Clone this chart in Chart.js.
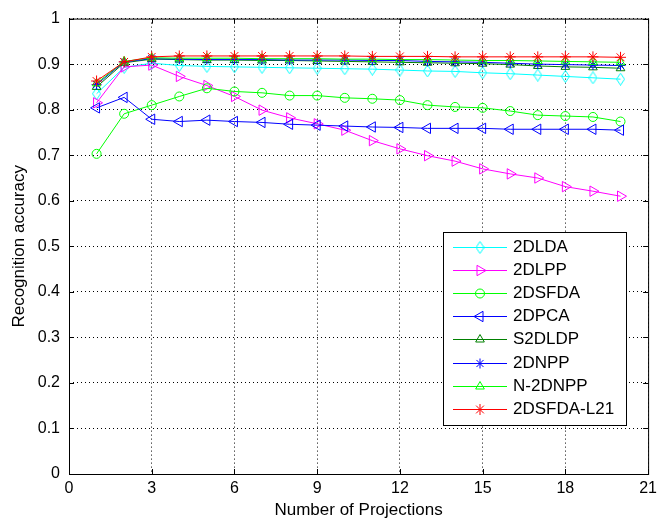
<!DOCTYPE html>
<html>
<head>
<meta charset="utf-8">
<script src="https://cdn.jsdelivr.net/npm/chart.js@4.4.1/dist/chart.umd.min.js"></script>
<style>
  html, body { margin: 0; padding: 0; background: #fff; }
  canvas { display: block; }
</style>
</head>
<body>
<canvas id="accuracyChart" width="662" height="524"></canvas>
<script>
// number of projections (x axis)
const projections = [1, 2, 3, 4, 5, 6, 7, 8, 9, 10, 11, 12, 13, 14, 15, 16, 17, 18, 19, 20];

// recognition accuracy per method
const acc2DLDA     = [0.835, 0.893, 0.902, 0.897, 0.895, 0.894, 0.893, 0.892, 0.891, 0.890, 0.889, 0.887, 0.885, 0.884, 0.881, 0.879, 0.876, 0.873, 0.870, 0.867];
const acc2DLPP     = [0.815, 0.894, 0.898, 0.873, 0.853, 0.829, 0.799, 0.782, 0.769, 0.755, 0.732, 0.714, 0.699, 0.687, 0.670, 0.659, 0.650, 0.631, 0.621, 0.610];
const acc2DSFDA    = [0.703, 0.791, 0.810, 0.829, 0.847, 0.840, 0.837, 0.831, 0.831, 0.826, 0.824, 0.821, 0.810, 0.806, 0.804, 0.797, 0.788, 0.786, 0.784, 0.774];
const acc2DPCA     = [0.804, 0.827, 0.779, 0.774, 0.777, 0.774, 0.772, 0.768, 0.766, 0.764, 0.762, 0.761, 0.759, 0.759, 0.759, 0.757, 0.757, 0.757, 0.757, 0.755];
const accS2DLDP    = [0.850, 0.903, 0.911, 0.910, 0.909, 0.909, 0.908, 0.908, 0.907, 0.906, 0.905, 0.904, 0.903, 0.902, 0.901, 0.899, 0.896, 0.894, 0.893, 0.891];
const acc2DNPP     = [0.855, 0.905, 0.912, 0.911, 0.910, 0.910, 0.910, 0.909, 0.909, 0.909, 0.908, 0.908, 0.906, 0.905, 0.904, 0.902, 0.900, 0.899, 0.898, 0.897];
const accN2DNPP    = [0.858, 0.906, 0.914, 0.913, 0.913, 0.913, 0.912, 0.912, 0.912, 0.911, 0.911, 0.910, 0.910, 0.909, 0.908, 0.908, 0.907, 0.906, 0.905, 0.904];
const acc2DSFDAL21 = [0.863, 0.905, 0.916, 0.918, 0.918, 0.918, 0.918, 0.918, 0.918, 0.918, 0.917, 0.917, 0.917, 0.916, 0.916, 0.916, 0.916, 0.916, 0.916, 0.915];

const methodNames = ['2DLDA', '2DLPP', '2DSFDA', '2DPCA', 'S2DLDP', '2DNPP', 'N-2DNPP', '2DSFDA-L21'];

// tick values
const xTicks = [0, 3, 6, 9, 12, 15, 18, 21];
const yTicks = [0, 0.1, 0.2, 0.3, 0.4, 0.5, 0.6, 0.7, 0.8, 0.9, 1];

const FONT = '"Liberation Sans", Arial, sans-serif';
Chart.defaults.font.family = FONT;
Chart.defaults.color = '#000';

// tall open diamond marker
function diamondMarker(color) {
  const c = document.createElement('canvas');
  c.width = 9; c.height = 13;
  const g = c.getContext('2d');
  g.strokeStyle = color;
  g.lineWidth = 1;
  g.beginPath();
  g.moveTo(4.5, 0.5);
  g.lineTo(8.5, 6.5);
  g.lineTo(4.5, 12.5);
  g.lineTo(0.5, 6.5);
  g.closePath();
  g.stroke();
  return c;
}

function series(label, values, color, pointStyle, radius, rotation) {
  return {
    label: label,
    data: projections.map((x, k) => ({ x: x, y: values[k] })),
    borderColor: color,
    backgroundColor: 'rgba(0,0,0,0)',
    pointBorderColor: color,
    pointBackgroundColor: 'rgba(0,0,0,0)',
    pointStyle: pointStyle,
    pointRadius: radius,
    pointRotation: rotation || 0,
    pointBorderWidth: 1,
    borderWidth: 1,
    tension: 0
  };
}

const datasets = [
  series(methodNames[0], acc2DLDA, '#00ffff', diamondMarker('#00ffff'), 6),
  series(methodNames[1], acc2DLPP, '#ff00ff', 'triangle', 6, 90),
  series(methodNames[2], acc2DSFDA, '#00ff00', 'circle', 4.5),
  series(methodNames[3], acc2DPCA, '#0000ff', 'triangle', 6, -90),
  series(methodNames[4], accS2DLDP, '#008000', 'triangle', 5),
  series(methodNames[5], acc2DNPP, '#0000ff', 'star', 5),
  series(methodNames[6], accN2DNPP, '#00ff00', 'triangle', 5),
  series(methodNames[7], acc2DSFDAL21, '#ff0000', 'star', 5.5)
];
// later series are painted on top
datasets.forEach((ds, i) => { ds.order = datasets.length - i; });

// axes box with inward tick marks
const axesBox = {
  id: 'axesBox',
  afterDraw(chart) {
    const { ctx, chartArea: a, scales } = chart;
    ctx.save();
    ctx.setLineDash([]);
    ctx.strokeStyle = '#000';
    ctx.lineWidth = 1;
    ctx.strokeRect(a.left + 0.5, a.top + 0.5, a.right - a.left, a.bottom - a.top);
    ctx.beginPath();
    xTicks.forEach(v => {
      const px = Math.round(scales.x.getPixelForValue(v)) + 0.5;
      ctx.moveTo(px, a.bottom); ctx.lineTo(px, a.bottom - 5);
      ctx.moveTo(px, a.top); ctx.lineTo(px, a.top + 5);
    });
    yTicks.forEach(v => {
      const py = Math.round(scales.y.getPixelForValue(v)) + 0.5;
      ctx.moveTo(a.left, py); ctx.lineTo(a.left + 5, py);
      ctx.moveTo(a.right, py); ctx.lineTo(a.right - 5, py);
    });
    ctx.stroke();
    ctx.restore();
  }
};

// boxed legend in the lower right of the plot
const legendBox = {
  id: 'legendBox',
  afterDatasetsDraw(chart) {
    const ctx = chart.ctx;
    const bx = 443, by = 232, bw = 183, bh = 193;
    ctx.save();
    ctx.setLineDash([]);
    ctx.globalAlpha = 1;
    ctx.fillStyle = '#fff';
    ctx.fillRect(bx, by, bw, bh);
    ctx.strokeStyle = '#000';
    ctx.lineWidth = 1;
    ctx.strokeRect(bx + 0.5, by + 0.5, bw, bh);
    chart.data.datasets.forEach((ds, i) => {
      const y = Math.round(by + 15 + i * 23.1);
      // sample line
      ctx.fillStyle = ds.borderColor;
      ctx.fillRect(bx + 10, y, 54, 1);
      // marker
      ctx.strokeStyle = ds.borderColor;
      ctx.lineWidth = 1;
      ctx.fillStyle = 'rgba(255,255,255,0)';
      Chart.helpers.drawPoint(ctx, {
        pointStyle: ds.pointStyle,
        radius: ds.pointRadius,
        rotation: ds.pointRotation,
        borderWidth: 1
      }, bx + 37, y + 0.5);
      // label
      ctx.fillStyle = '#000';
      ctx.font = '17px ' + FONT;
      ctx.textBaseline = 'middle';
      ctx.textAlign = 'left';
      ctx.fillText(ds.label, bx + 70, y + 0.5);
    });
    ctx.restore();
  }
};

new Chart(document.getElementById('accuracyChart').getContext('2d'), {
  type: 'line',
  data: { datasets: datasets },
  plugins: [legendBox, axesBox],
  options: {
    responsive: false,
    animation: false,
    layout: { padding: { left: 0, right: 9, top: 13, bottom: 0 } },
    plugins: { legend: { display: false }, tooltip: { enabled: false } },
    scales: {
      x: {
        type: 'linear',
        min: 0,
        max: 21,
        afterBuildTicks: scale => { scale.ticks = xTicks.map(v => ({ value: v })); },
        afterFit: scale => { scale.height = 50; },
        ticks: { font: { size: 16 }, padding: 5, maxRotation: 0, autoSkip: false },
        grid: { color: '#000', lineWidth: 1, drawTicks: false },
        border: { display: false, dash: [1, 3] },
        title: {
          display: true,
          text: 'Number of Projections',
          font: { size: 17, lineHeight: 1.2 },
          padding: { top: 0, bottom: 3 }
        }
      },
      y: {
        min: 0,
        max: 1,
        afterBuildTicks: scale => { scale.ticks = yTicks.map(v => ({ value: v })); },
        afterFit: scale => { scale.width = 69; },
        ticks: {
          font: { size: 16 },
          padding: 9,
          callback: v => String(Math.round(v * 10) / 10)
        },
        grid: { color: '#000', lineWidth: 1, drawTicks: false },
        border: { display: false, dash: [1, 3] },
        title: {
          display: true,
          text: 'Recognition accuracy',
          font: { size: 17, lineHeight: 1.2 },
          padding: { top: 9, bottom: 0 }
        }
      }
    }
  }
});
</script>
</body>
</html>
